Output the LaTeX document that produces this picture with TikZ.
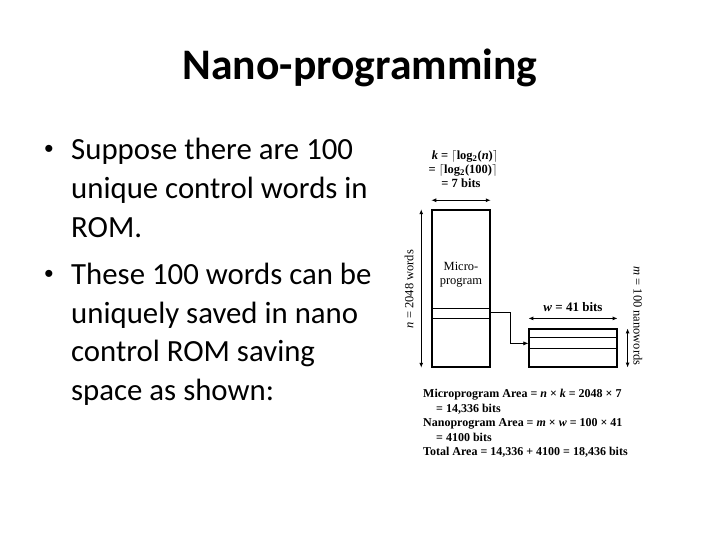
\documentclass[tikz,border=0pt]{standalone}
\usepackage{fontspec}
\setmainfont{Carlito}
\newfontfamily\figfont{Liberation Serif}
\newfontfamily\dotfont{Liberation Sans}
\usepackage{tikz}
\usetikzlibrary{arrows.meta,positioning,calc}

\begin{document}
\begin{tikzpicture}[x=1pt,y=-1pt,
    slide/.style={font=\fontsize{30.8}{37}\selectfont, anchor=base west, inner sep=0pt},
    bul/.style={font=\dotfont\fontsize{26}{30}\selectfont, anchor=base, inner sep=0pt},
    fig/.style={font=\figfont\bfseries\fontsize{12}{14}\selectfont, anchor=base west, inner sep=0pt},
    figtop/.style={font=\figfont\bfseries\fontsize{12.5}{14}\selectfont, anchor=base, inner sep=0pt},
    figlabel/.style={font=\figfont\fontsize{12.5}{14}\selectfont, inner sep=0pt},
    box/.style={draw, line width=1.5pt, inner sep=0pt},
    dim/.style={{Latex[length=5pt,width=4pt]}-{Latex[length=5pt,width=4pt]}, line width=0.9pt}]
  \useasboundingbox[fill=white] (0,0) rectangle (720,540);

  % Title
  \node[font=\bfseries\fontsize{43.6}{50}\selectfont, anchor=base, inner sep=0pt]
    (title) at (360,80) {Nano-programming};

  % Bullets
  \node[bul] (dotA) at (49,158) {•};
  \node[slide] (sA1) at (71,160) {Suppose there are 100};
  \node[slide] (sA2) at (71,198.5) {unique control words in};
  \node[slide] (sA3) at (71,237) {ROM.};
  \node[bul] (dotB) at (49,282.5) {•};
  \node[slide] (sB1) at (71,284.5) {These 100 words can be};
  \node[slide] (sB2) at (71,323) {uniquely saved in nano};
  \node[slide] (sB3) at (71,361.5) {control ROM saving};
  \node[slide] (sB4) at (71,400) {space as shown:};

  % Micro ROM
  \node[box, minimum width=58pt, minimum height=157pt] (micro) at (461,288.5) {};
  \draw[line width=0.5pt] ($(micro.north west)+(0,99)$) -- ($(micro.north east)+(0,99)$);
  \draw[line width=1.5pt] ($(micro.north west)+(0,109)$) -- ($(micro.north east)+(0,109)$);
  \node[figlabel, align=center] (microtxt) at (461,275) {Micro-\\program};

  % k
  \node[figtop] (kA) at (465,159.5) {\textit{k} = $\lceil$log\textsubscript{2}(\textit{n})$\rceil$};
  \node[figtop] (kB) at (463,174) {= $\lceil$log\textsubscript{2}(100)$\rceil$};
  \node[figtop] (kC) at (461,188) {= 7 bits};
  \draw[dim] ($(micro.north west)+(0,-9)$) -- ($(micro.north east)+(0,-9)$);

  % n
  \draw[dim] ($(micro.north west)+(-10,0)$) -- ($(micro.south west)+(-10,0)$);
  \node[figlabel, rotate=90] (nlab) at (409,289) {\textit{n} = 2048 words};

  % Nano ROM
  \node[box, line width=1.2pt, minimum width=88pt, minimum height=38pt] (nano) at (573,348) {};
  \draw[line width=1pt] ($(nano.north west)+(0,9)$) -- ($(nano.north east)+(0,9)$);
  \draw[line width=1pt] ($(nano.north west)+(0,20)$) -- ($(nano.north east)+(0,20)$);

  % connector
  \coordinate (slot) at ($(micro.north east)+(0,103)$);
  \coordinate (nanoin) at ($(nano.north west)+(0,15)$);
  \draw[-{Latex[length=5pt,width=4pt]}, line width=0.6pt] (slot) -- ++(20,0) |- (nanoin);

  % w and m
  \draw[dim] ($(nano.north west)+(0,-10)$) -- ($(nano.north east)+(0,-10)$);
  \node[figtop, font=\figfont\bfseries\fontsize{13}{15}\selectfont] (wlab) at (573,311) {\textit{w} = 41 bits};
  \draw[dim] ($(nano.north east)+(10,0)$) -- ($(nano.south east)+(10,0)$);
  \node[figlabel, rotate=-90] (mlab) at (638,316) {\textit{m} = 100 nanowords};

  % Areas
  \node[fig] (arA) at (423,397) {Microprogram Area = \textit{n} × \textit{k} = 2048 × 7};
  \node[fig] (arB) at (436,412) {= 14,336 bits};
  \node[fig] (arC) at (423,426) {Nanoprogram Area = \textit{m} × \textit{w} = 100 × 41};
  \node[fig] (arD) at (436,441) {= 4100 bits};
  \node[fig] (arE) at (423,455) {Total Area = 14,336 + 4100 = 18,436 bits};
\end{tikzpicture}
\end{document}
